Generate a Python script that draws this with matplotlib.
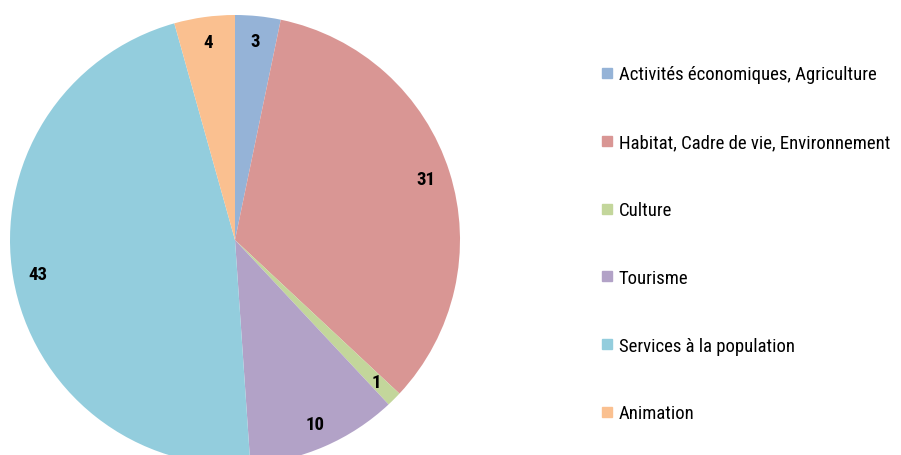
import matplotlib.pyplot as plt
from matplotlib import font_manager
from matplotlib.lines import Line2D

# Data
categories = ['Activités économiques, Agriculture',
              'Habitat, Cadre de vie, Environnement',
              'Culture',
              'Tourisme',
              'Services à la population',
              'Animation']
values = [3, 31, 1, 10, 43, 4]
colors = ['#95B3D7', '#D99694', '#C3D69B', '#B2A2C7', '#93CDDD', '#FAC090']

# look for a narrow sans font (Arial Narrow look), else plain Liberation Sans
files = font_manager.findSystemFonts()
def pick(keys, bold):
    for k in keys:
        for f in sorted(files):
            base = f.split('/')[-1].lower()
            if k in base and ('bold' in base) == bold and 'italic' not in base \
                    and 'oblique' not in base:
                return f
    return None

keys = ['liberationsansnarrow', 'arialn', 'robotocondensed', 'dejavusanscondensed']
reg_file = pick(keys, False)
bold_file = pick(keys, True)
if reg_file:
    font_reg = font_manager.FontProperties(fname=reg_file, size=13.5)
    font_bold = font_manager.FontProperties(fname=bold_file or reg_file, size=13.5,
                                            weight='bold')
else:
    font_reg = font_manager.FontProperties(family='Liberation Sans', size=11)
    font_bold = font_manager.FontProperties(family='Liberation Sans', size=12,
                                            weight='bold')

fig = plt.figure(figsize=(9.01, 4.56), dpi=100)
ax = fig.add_axes([10 / 901, -10 / 456, 450 / 901, 450 / 456])

total = sum(values)
wedges, texts, autotexts = ax.pie(
    values, colors=colors, startangle=90, counterclock=False,
    autopct=lambda p: f'{round(p * total / 100)}', pctdistance=0.89)
for t in autotexts:
    t.set_fontproperties(font_bold)
    t.set_color('black')
ax.set_xlim(-1, 1)
ax.set_ylim(-1, 1)
ax.set_aspect('equal')

handles = [Line2D([], [], marker='s', linestyle='', markersize=7,
                  markerfacecolor=c, markeredgecolor=c) for c in colors]
fig.legend(handles, categories, loc='upper left',
           bbox_to_anchor=(603 / 901, 1 - 66.5 / 456),
           frameon=False, prop=font_reg, labelspacing=2.655,
           handlelength=0.45, handletextpad=0.4, borderaxespad=0,
           borderpad=0)

fig.savefig('out.png', dpi=100)
